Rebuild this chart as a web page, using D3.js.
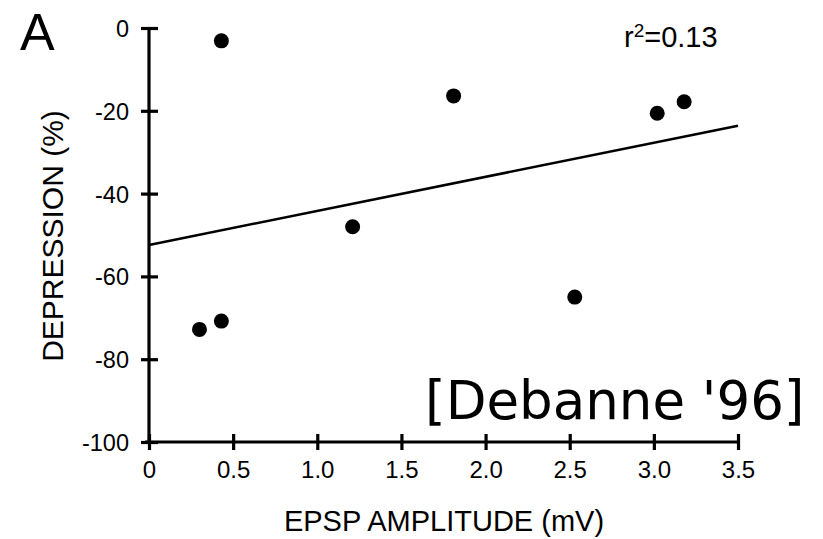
<!DOCTYPE html>
<html><head><meta charset="utf-8">
<script src="https://cdn.jsdelivr.net/npm/d3@7"></script>
<style>
body{margin:0;background:#fff;}
svg{display:block;}
text{font-family:"Liberation Sans",Arial,sans-serif;fill:#000;}
</style></head>
<body>
<svg id="chart" width="823" height="539"></svg>
<script>
const amplitude = [0.30, 0.43, 0.43, 1.21, 1.81, 2.53, 3.02, 3.18];
const depression = [-72.8, -70.8, -3.1, -48.0, -16.4, -65.0, -20.6, -17.8];
const fitX = [0, 3.5];
const fitY = [-52.4, -23.6];
const xTicks = [0, 0.5, 1.0, 1.5, 2.0, 2.5, 3.0, 3.5];
const xTickLabels = ["0", "0.5", "1.0", "1.5", "2.0", "2.5", "3.0", "3.5"];
const yTicks = [0, -20, -40, -60, -80, -100];
const yTickLabels = ["0", "-20", "-40", "-60", "-80", "-100"];

const svg = d3.select("#chart");
const x = d3.scaleLinear().domain([0, 3.5]).range([149, 738]);
const y = d3.scaleLinear().domain([-100, 0]).range([442, 28]);

// y axis
const gy = svg.append("g").attr("transform", `translate(${x(0)},0)`)
  .call(d3.axisLeft(y).tickValues(yTicks).tickFormat((d,i)=>yTickLabels[i]).tickSize(8).tickPadding(12));
gy.select(".domain").attr("stroke", "#000").attr("stroke-width", 3.2).attr("d", `M0,${y(0)}V${y(-100)}`);
gy.selectAll(".tick line").attr("stroke", "#000").attr("stroke-width", 3.2).attr("x1", 9).attr("x2", -8);
gy.selectAll(".tick text").attr("font-size", 23.5).attr("dy", "0.36em");

// x axis
const gx = svg.append("g").attr("transform", `translate(0,${y(-100)})`)
  .call(d3.axisBottom(x).tickValues(xTicks).tickFormat((d,i)=>xTickLabels[i]).tickSize(8).tickPadding(11));
gx.select(".domain").attr("stroke", "#000").attr("stroke-width", 3.2).attr("d", `M${x(0)-4},0H${x(3.5)}`);
gx.selectAll(".tick line").attr("stroke", "#000").attr("stroke-width", 3.2).attr("y1", -8).attr("y2", 8);
gx.selectAll(".tick text").attr("font-size", 24);

// regression line
svg.append("path")
  .datum(fitX.map((d,i)=>[d, fitY[i]]))
  .attr("fill", "none").attr("stroke", "#000").attr("stroke-width", 2.5)
  .attr("d", d3.line().x(d=>x(d[0])).y(d=>y(d[1])));

// points
svg.selectAll("circle.pt").data(amplitude.map((d,i)=>[d, depression[i]])).join("circle")
  .attr("class", "pt")
  .attr("cx", d=>x(d[0])).attr("cy", d=>y(d[1])).attr("r", 7.5).attr("fill", "#000");

// labels
svg.append("text").attr("x", 444).attr("y", 531).attr("text-anchor", "middle")
  .attr("font-size", 29).text("EPSP AMPLITUDE (mV)");
svg.append("text").attr("transform", "translate(63,236) rotate(-90)").attr("text-anchor", "middle")
  .attr("font-size", 30).text("DEPRESSION (%)");
svg.append("text").attr("x", 20).attr("y", 50).attr("font-size", 52).text("A");

const r2 = svg.append("text").attr("x", 624).attr("y", 47).attr("font-size", 29);
r2.append("tspan").text("r");
r2.append("tspan").attr("font-size", 19).attr("dy", -10).text("2");
r2.append("tspan").attr("dy", 10).text("=0.13");

svg.append("text").attr("x", 425).attr("y", 419).attr("font-size", 53)
  .style("font-family", "'DejaVu Sans', sans-serif").text("[Debanne '96]");
</script>
</body></html>
